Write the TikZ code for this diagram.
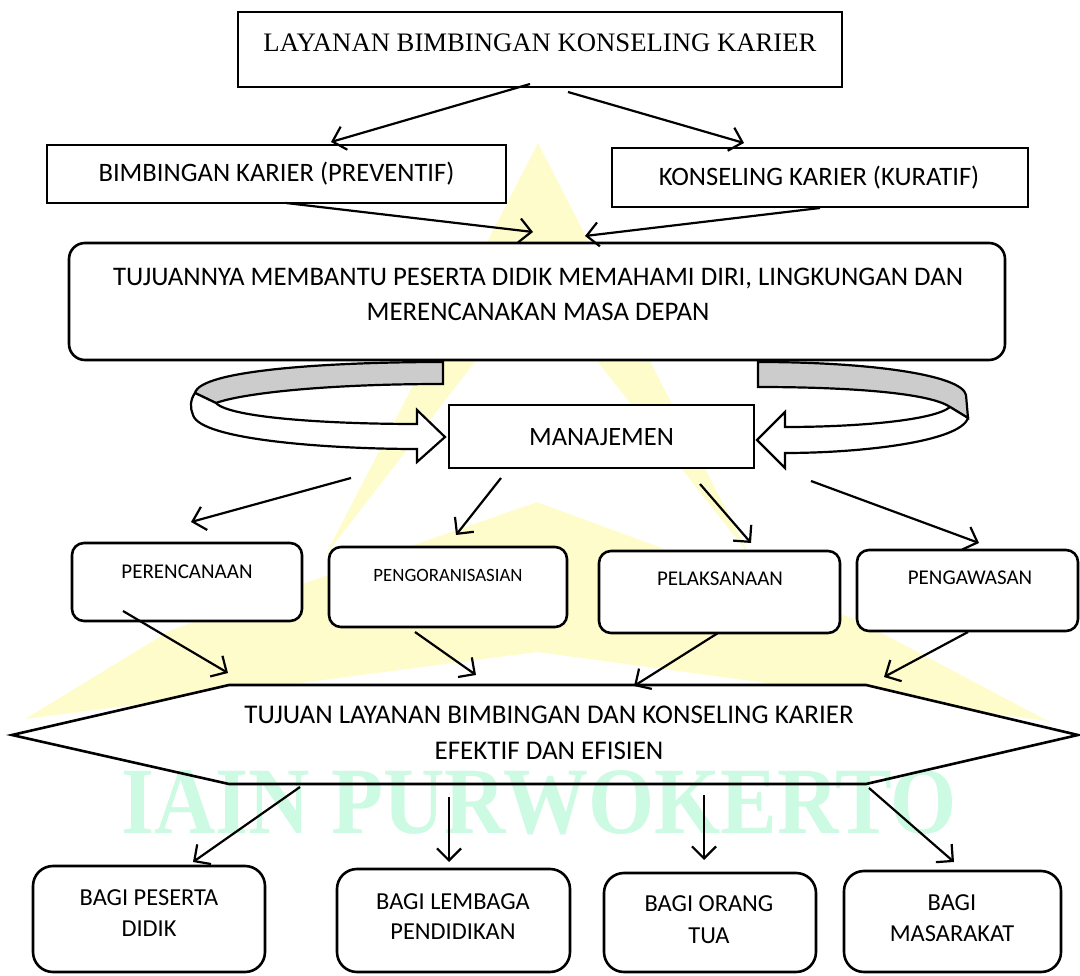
\documentclass[tikz,border=0pt]{standalone}
\usepackage{fontspec}
\setmainfont{Carlito}
\newfontfamily\tnr{Liberation Serif}
\usetikzlibrary{arrows.meta}
\definecolor{wmy}{RGB}{255,252,204}
\definecolor{wmg}{RGB}{204,250,226}
\definecolor{ribgrey}{RGB}{204,204,204}
\tikzset{
  box/.style={draw=black, line width=2.6pt, fill=white, inner sep=0pt},
  rbox/.style={box, rounded corners=#1},
  txt/.style={inner sep=0pt, align=center},
  conn/.style={line width=2.2pt, -{Straight Barb[length=12pt,width=24pt,line width=2.2pt]}},
  ribbon/.style={draw=black, line width=2.2pt, line join=miter},
}
\begin{document}
\begin{tikzpicture}[x=1pt,y=-1pt]
\useasboundingbox (0,0) rectangle (1080,976);
% watermark logo
\fill[wmy] (538,143) -- (750,556) -- (536,283) -- (325,556) -- cycle;
\fill[wmy] (537,502) -- (171,630) -- (25,719) -- (537,652) -- (1048,721) -- (857,620) -- cycle;

% boxes
\node[box, minimum width=604pt, minimum height=75pt] (top) at (540,49.5) {};
\node[txt, font=\tnr\fontsize{26.7}{30}\selectfont] (ttop) at (540,43) {LAYANAN BIMBINGAN KONSELING KARIER};

\node[box, minimum width=459pt, minimum height=58pt] (bk) at (276.5,174) {};
\node[txt, font=\fontsize{26.6}{30}\selectfont] (tbk) at (276.5,174) {BIMBINGAN KARIER (PREVENTIF)};
\node[box, minimum width=416pt, minimum height=59pt] (kk) at (820,177.5) {};
\node[txt, font=\fontsize{26.6}{30}\selectfont] (tkk) at (819,177.5) {KONSELING KARIER (KURATIF)};

\node[rbox=16pt, minimum width=936pt, minimum height=117pt] (main) at (537,301.5) {};
\node[txt, font=\fontsize{26.8}{35}\selectfont] (tmain) at (538,294.5) {TUJUANNYA MEMBANTU PESERTA DIDIK MEMAHAMI DIRI, LINGKUNGAN DAN\\MERENCANAKAN MASA DEPAN};

% ribbons (curved block arrows)
\filldraw[ribbon, fill=ribgrey] (443,362) .. controls (330,362) and (200,370) .. (195,393) -- (216,403) .. controls (240,394) and (320,384) .. (443,384) -- cycle;
\filldraw[ribbon, fill=white] (195,393) .. controls (190,400) and (190,408) .. (193,415) .. controls (200,440) and (330,449) .. (417,449) -- (417,462) -- (445,437) -- (417,410) -- (417,424) .. controls (330,424) and (230,418) .. (216,403) -- cycle;
\filldraw[ribbon, fill=ribgrey] (758,362) .. controls (870,362) and (962,375) .. (966,395) -- (968,418) -- (950,407) .. controls (930,393) and (850,387) .. (758,387) -- cycle;
\filldraw[ribbon, fill=white] (950,407) -- (968,418) .. controls (960,442) and (860,453) .. (785,453) -- (785,468) -- (757,440) -- (785,412) -- (785,427) .. controls (860,427) and (935,420) .. (950,407) -- cycle;

\node[box, minimum width=305pt, minimum height=63pt] (man) at (601.5,436.5) {};
\node[txt, font=\fontsize{26.5}{30}\selectfont] (tman) at (601.5,437) {MANAJEMEN};

% row boxes
\node[rbox=12pt, minimum width=230pt, minimum height=78pt] (per) at (187,582) {};
\node[txt, font=\fontsize{21}{25}\selectfont] (tper) at (187,572) {PERENCANAAN};
\node[rbox=12pt, minimum width=238pt, minimum height=80pt] (org) at (448,587) {};
\node[txt, font=\fontsize{18.8}{22}\selectfont] (torg) at (448,575) {PENGORANISASIAN};
\node[rbox=12pt, minimum width=241pt, minimum height=82pt] (pel) at (719.5,592) {};
\node[txt, font=\fontsize{21}{25}\selectfont] (tpel) at (720,579) {PELAKSANAAN};
\node[rbox=12pt, minimum width=221pt, minimum height=81pt] (paw) at (967.5,590.5) {};
\node[txt, font=\fontsize{21}{25}\selectfont] (tpaw) at (970,578) {PENGAWASAN};

% hexagon
\fill[white] (12,735) -- (229,685) -- (866,685) -- (1078,735) -- (866,784) -- (229,784) -- cycle;
% watermark text
\node[txt, anchor=base, text=wmg, font=\tnr\bfseries\fontsize{95}{95}\selectfont] (wm) at (539,833) {\scalebox{0.895}[1]{IAIN PURWOKERTO}};
\draw[line width=2.6pt, line join=miter] (12,735) -- (229,685) -- (866,685) -- (1078,735) -- (866,784) -- (229,784) -- cycle;
\node[txt, font=\fontsize{27}{36}\selectfont] (thex) at (549,733) {TUJUAN LAYANAN BIMBINGAN DAN KONSELING KARIER\\EFEKTIF DAN EFISIEN};

% bottom boxes
\node[rbox=20pt, minimum width=232pt, minimum height=106pt] (b1) at (149,919) {};
\node[txt, font=\fontsize{24.4}{31}\selectfont] (tb1) at (149,913.5) {BAGI PESERTA\\DIDIK};
\node[rbox=20pt, minimum width=233pt, minimum height=103pt] (b2) at (453.5,920.5) {};
\node[txt, font=\fontsize{24.4}{30}\selectfont] (tb2) at (453,917) {BAGI LEMBAGA\\PENDIDIKAN};
\node[rbox=20pt, minimum width=212pt, minimum height=99pt] (b3) at (710,922.5) {};
\node[txt, font=\fontsize{24.4}{32}\selectfont] (tb3) at (709,920) {BAGI ORANG\\TUA};
\node[rbox=20pt, minimum width=217pt, minimum height=101pt] (b4) at (952.5,921.5) {};
\node[txt, font=\fontsize{24.4}{31}\selectfont] (tb4) at (952,918.5) {BAGI\\MASARAKAT};

% connector endpoints
\coordinate (a1s) at (530,84);  \coordinate (a1e) at (331,142);
\coordinate (a2s) at (568,92);  \coordinate (a2e) at (744,143);
\coordinate (a3s) at (286,203); \coordinate (a3e) at (533,232);
\coordinate (a4s) at (820,208); \coordinate (a4e) at (585,236);
\coordinate (m1s) at (351,478); \coordinate (m1e) at (191,522);
\coordinate (m2s) at (501,478); \coordinate (m2e) at (456,535);
\coordinate (m3s) at (700,484); \coordinate (m3e) at (751,543);
\coordinate (m4s) at (811,481); \coordinate (m4e) at (979,543);
\coordinate (r1s) at (123,611); \coordinate (r1e) at (228,673);
\coordinate (r2s) at (415,632); \coordinate (r2e) at (476,675);
\coordinate (r3s) at (718,633); \coordinate (r3e) at (634,686);
\coordinate (r4s) at (968,632); \coordinate (r4e) at (884,677);
\coordinate (d1s) at (300,787); \coordinate (d1e) at (193,862);
\coordinate (d2s) at (449,797); \coordinate (d2e) at (449,862);
\coordinate (d3s) at (704,795); \coordinate (d3e) at (704,860);
\coordinate (d4s) at (869,788); \coordinate (d4e) at (954,862);

\foreach \a in {a1,a2,a3,a4,m1,m2,m3,m4,r1,r2,r3,r4,d1,d2,d3,d4}
  \draw[conn] (\a s) -- (\a e);
\end{tikzpicture}
\end{document}
